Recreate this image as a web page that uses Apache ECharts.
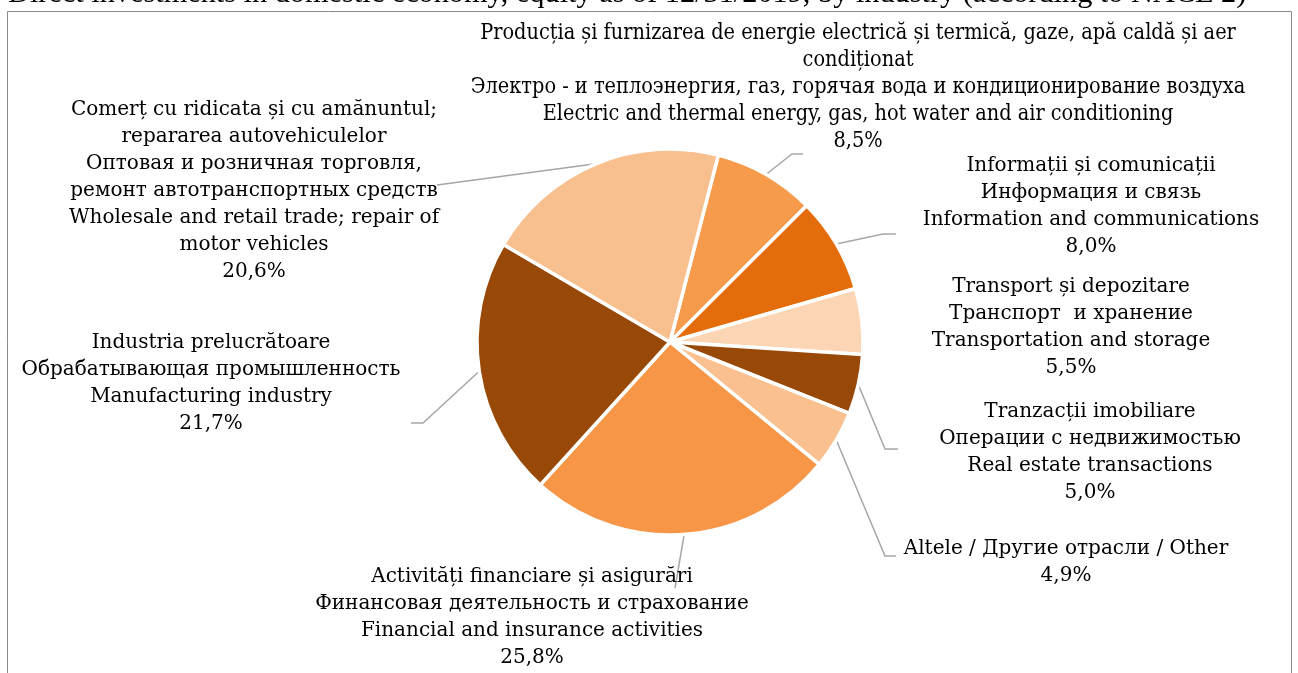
<!DOCTYPE html>
<html>
<head>
<meta charset="utf-8">
<script src="https://cdn.jsdelivr.net/npm/echarts@6/dist/echarts.min.js"></script>
<style>
html,body{margin:0;padding:0;background:#fff;}
#c{width:1298px;height:673px;}
</style>
</head>
<body>
<div id="c"></div>
<script>
const titleText = 'Direct investments in domestic economy, equity as of 12/31/2019, by industry (according to NACE 2)';
const categories = [
  'Producția și furnizarea de energie electrică și termică, gaze, apă caldă și aer\ncondiționat\nЭлектро - и теплоэнергия, газ, горячая вода и кондиционирование воздуха\nElectric and thermal energy, gas, hot water and air conditioning',
  'Informații și comunicații\nИнформация и связь\nInformation and communications',
  'Transport și depozitare\nТранспорт  и хранение\nTransportation and storage',
  'Tranzacții imobiliare\nОперации с недвижимостью\nReal estate transactions',
  'Altele / Другие отрасли / Other',
  'Activități financiare și asigurări\nФинансовая деятельность и страхование\nFinancial and insurance activities',
  'Industria prelucrătoare\nОбрабатывающая промышленность\nManufacturing industry',
  'Comerț cu ridicata și cu amănuntul;\nrepararea autovehiculelor\nОптовая и розничная торговля,\nремонт автотранспортных средств\nWholesale and retail trade; repair of\nmotor vehicles'
];
const shares = [8.5, 8.0, 5.5, 5.0, 4.9, 25.8, 21.7, 20.6];
const colors = ['#F69A4C', '#E46C0A', '#FCD5B4', '#984807', '#FAC090', '#F79646', '#984807', '#F9C08F'];

// label layout (text block center, leader elbow, leader end) - styling only
const labelLayouts = [
  {x: 858, y: 87,  elbow: [792, 154], end: [803, 154], font: 'DejaVu Serif Condensed', size: 21.5},
  {x: 1091, y: 206, elbow: [883, 234], end: [896, 234]},
  {x: 1071, y: 327, line: false},
  {x: 1090, y: 452, elbow: [885, 449], end: [898, 449]},
  {x: 1066, y: 562, elbow: [885, 556], end: [896, 556]},
  {x: 532, y: 617, elbow: [675, 588], end: [675, 588]},
  {x: 211, y: 383, elbow: [423, 423], end: [411, 423]},
  {x: 254, y: 191, elbow: [437, 185], end: [437, 185]}
];

const CENTER = [670, 342], RADIUS = 193, START = 75.5;

const chart = echarts.init(document.getElementById('c'), null, {renderer: 'canvas'});

const data = categories.map((name, i) => {
  const L = labelLayouts[i];
  const item = {
    name: name,
    value: shares[i],
    itemStyle: {color: colors[i]}
  };
  if (L.font) item.label = {fontFamily: L.font, fontSize: L.size};
  if (L.line === false) item.labelLine = {show: false};
  return item;
});

function edgePoint(idx) {
  const total = shares.reduce((a, b) => a + b, 0);
  let cum = 0;
  for (let i = 0; i < idx; i++) cum += shares[i];
  const mid = (cum + shares[idx] / 2) / total * 360;
  const ang = (START - mid) * Math.PI / 180;
  return [CENTER[0] + RADIUS * Math.cos(ang), CENTER[1] - RADIUS * Math.sin(ang)];
}

chart.setOption({
  animation: false,
  graphic: [
    {
      type: 'rect',
      shape: {x: 7.5, y: 11.5, width: 1284, height: 720},
      style: {fill: 'none', stroke: '#898989', lineWidth: 1},
      silent: true
    },
    {
      type: 'text',
      x: 8, y: 9,
      style: {
        text: titleText,
        fontFamily: 'Liberation Serif',
        fontSize: 30.3,
        fill: '#000',
        align: 'left',
        verticalAlign: 'bottom'
      },
      silent: true
    }
  ],
  series: [{
    type: 'pie',
    center: CENTER,
    radius: RADIUS,
    startAngle: START,
    clockwise: true,
    avoidLabelOverlap: false,
    silent: true,
    emphasis: {disabled: true},
    itemStyle: {borderColor: '#ffffff', borderWidth: 3.5},
    label: {
      show: true,
      position: 'outside',
      color: '#000',
      fontFamily: 'DejaVu Serif',
      fontSize: 20,
      lineHeight: 27,
      align: 'center',
      formatter: function (p) {
        return p.name + '\n' + p.value.toFixed(1).replace('.', ',') + '%';
      }
    },
    labelLine: {
      show: true,
      lineStyle: {color: '#A6A6A6', width: 1.5}
    },
    labelLayout: function (params) {
      const L = labelLayouts[params.dataIndex];
      const res = {x: L.x, y: L.y, align: 'center', verticalAlign: 'middle'};
      if (L.line !== false) {
        const p0 = (params.labelLinePoints && params.labelLinePoints[0]) || edgePoint(params.dataIndex);
        res.labelLinePoints = [p0, L.elbow, L.end];
      }
      return res;
    },
    data: data
  }]
});
</script>
</body>
</html>
